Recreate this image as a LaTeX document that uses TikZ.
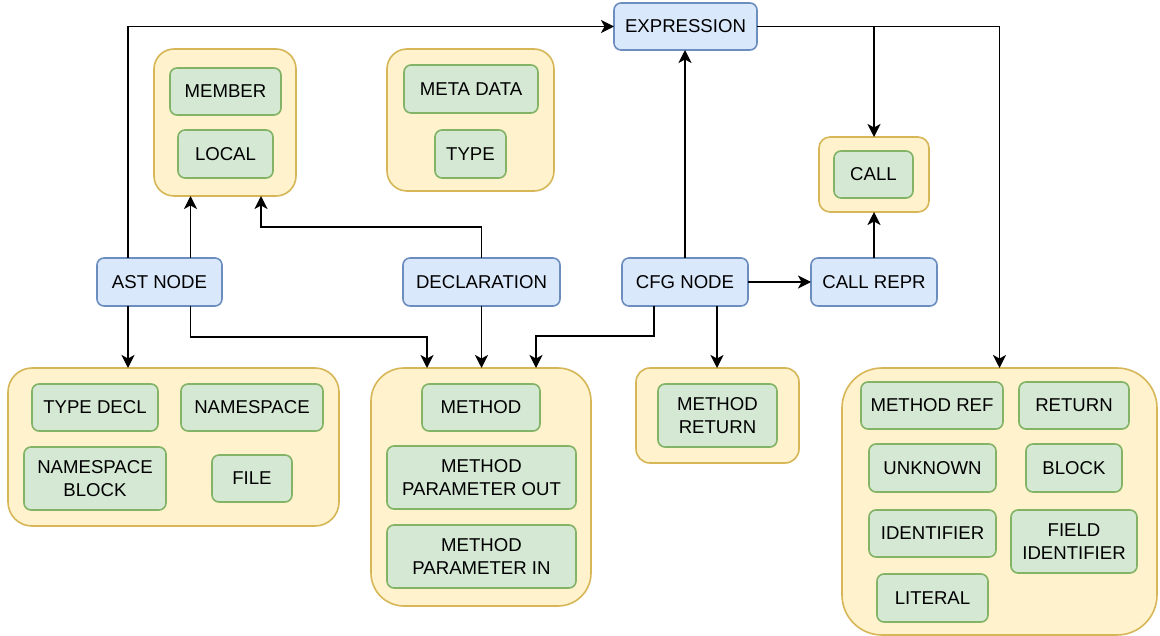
\documentclass[tikz,border=0pt]{standalone}
\usepackage{fontspec}
\setmainfont{Liberation Sans}
\usetikzlibrary{arrows.meta,calc}

\definecolor{bluefill}{HTML}{DAE8FC}
\definecolor{bluedraw}{HTML}{6C8EBF}
\definecolor{greenfill}{HTML}{D5E8D4}
\definecolor{greendraw}{HTML}{82B366}
\definecolor{yellowfill}{HTML}{FFF2CC}
\definecolor{yellowdraw}{HTML}{D6B656}

\tikzset{
  base/.style={rectangle, inner sep=0pt, outer sep=0pt, line width=1.6pt, align=center,
    font=\fontsize{18.6}{23.5}\selectfont},
  kind/.style={base, fill=bluefill, draw=bluedraw, rounded corners=7pt},
  item/.style={base, fill=greenfill, draw=greendraw, rounded corners=7pt},
  group/.style={base, fill=yellowfill, draw=yellowdraw},
  sz/.style 2 args={minimum width=#1pt, minimum height=#2pt},
  arr/.style={line width=1.8pt, -{Stealth[length=13pt,width=13pt,inset=3.5pt]}},
}

\begin{document}
\begin{tikzpicture}[x=1pt,y=-1pt]
\useasboundingbox (0,0) rectangle (1160,636);

% container groups
\node[group, sz={142}{147}, rounded corners=20pt] (gMem)  at (225,122.5) {};
\node[group, sz={167}{142}, rounded corners=20pt] (gMeta) at (470.5,120) {};
\node[group, sz={110}{75},  rounded corners=11pt] (gCall) at (874,174.5) {};
\node[group, sz={331}{158}, rounded corners=24pt] (gAst)  at (173.5,447) {};
\node[group, sz={220}{238}, rounded corners=33pt] (gMeth) at (481,487) {};
\node[group, sz={163}{95},  rounded corners=14pt] (gRet)  at (717.5,415.5) {};
\node[group, sz={315}{267}, rounded corners=40pt] (gExpr) at (999.5,501.5) {};

% node kinds
\node[kind, sz={143}{47}] (expr)     at (685.5,26.5) {EXPRESSION};
\node[kind, sz={125}{48}] (ast)      at (159.5,282)  {AST NODE};
\node[kind, sz={157}{48}] (decl)     at (481.5,282)  {DECLARATION};
\node[kind, sz={126}{48}] (cfg)      at (685,282)    {CFG NODE};
\node[kind, sz={126}{48}] (callrepr) at (874,282)    {CALL REPR};

% members of each group
\node[item, sz={111}{47}] (member)    at (225.5,91.5)  {MEMBER};
\node[item, sz={95}{48}]  (local)     at (225.5,154)   {LOCAL};
\node[item, sz={134}{48}] (meta)      at (471,89)      {META DATA};
\node[item, sz={71}{48}]  (type)      at (470.5,154)   {TYPE};
\node[item, sz={79}{47}]  (call)      at (873.5,174.5) {CALL};
\node[item, sz={126}{47}] (typedecl)  at (95,407.5)    {TYPE DECL};
\node[item, sz={142}{47}] (namespace) at (252,407.5)   {NAMESPACE};
\node[item, sz={142}{63}] (nsblock)   at (95,478.5)    {NAMESPACE\\BLOCK};
\node[item, sz={80}{47}]  (file)      at (252,478.5)   {FILE};
\node[item, sz={118}{47}] (method)    at (481,407.5)   {METHOD};
\node[item, sz={189}{63}] (mpout)     at (481.5,477.5) {METHOD\\PARAMETER OUT};
\node[item, sz={189}{63}] (mpin)      at (481.5,556.5) {METHOD\\PARAMETER IN};
\node[item, sz={119}{63}] (mret)      at (717.5,415.5) {METHOD\\RETURN};
\node[item, sz={142}{47}] (mref)      at (932,405.5)   {METHOD REF};
\node[item, sz={110}{47}] (ret)       at (1074,405.5)  {RETURN};
\node[item, sz={127}{48}] (unknown)   at (932.5,468)   {UNKNOWN};
\node[item, sz={96}{48}]  (block)     at (1074,468)    {BLOCK};
\node[item, sz={127}{47}] (ident)     at (932.5,533.5) {IDENTIFIER};
\node[item, sz={126}{63}] (fident)    at (1074,541.5)  {FIELD\\IDENTIFIER};
\node[item, sz={111}{48}] (literal)   at (932.5,598)   {LITERAL};

% routing columns and bends
\coordinate (xa1) at (128,0);
\coordinate (xa2) at (190.5,0);
\coordinate (xm)  at (261,0);
\coordinate (yd)  at (0,227);
\coordinate (ka)  at (427,337);
\coordinate (kc)  at (536,336);
\coordinate (xc1) at (654,0);
\coordinate (xc2) at (717,0);

% connectors
\draw[arr] (ast.north -| xa1) |- (expr.west);
\draw[arr] (ast.north -| xa2) -- (gMem.south -| xa2);
\draw[arr] (decl.north) -- (decl.north |- yd) -| (gMem.south -| xm);
\draw[arr] (ast.south -| xa1) -- (gAst.north -| xa1);
\draw[arr] (ast.south -| xa2) |- (ka) -- (gMeth.north -| ka);
\draw[arr] (decl.south) -- (decl.south |- gMeth.north);
\draw[arr] (cfg.south -| xc1) |- (kc) -- (gMeth.north -| kc);
\draw[arr] (cfg.south -| xc2) -- (gRet.north -| xc2);
\draw[arr] (cfg.east) -- (callrepr.west);
\draw[arr] (callrepr.north) -- (gCall.south);
\draw[arr] (cfg.north) -- (cfg.north |- expr.south);
\draw[arr] (expr.east) -| (gCall.north);
\draw[arr] (expr.east) -| (gExpr.north);
\end{tikzpicture}
\end{document}
